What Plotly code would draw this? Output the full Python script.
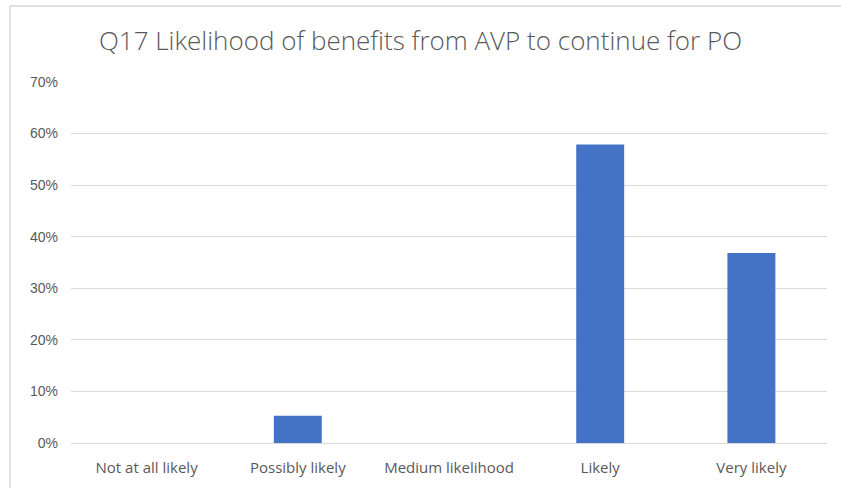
import plotly.graph_objects as go

# Survey responses (share of respondents)
categories = ["Not at all likely", "Possibly likely", "Medium likelihood", "Likely", "Very likely"]
shares = [0.0, 0.0526, 0.0, 0.5789, 0.3684]
tick_values = [0, 0.1, 0.2, 0.3, 0.4, 0.5, 0.6, 0.7]
tick_labels = ["0%", "10%", "20%", "30%", "40%", "50%", "60%", "70%"]

W, H = 841, 488
ML, MR, MT, MB = 71, 14, 82, 45
PW, PH = W - ML - MR, H - MT - MB

def px_x(x):
    return (x - ML) / PW

def px_y(y):
    return (H - MB - y) / PH

fig = go.Figure(
    go.Bar(
        x=categories,
        y=shares,
        marker=dict(color="#4472C4", line=dict(width=0)),
        hoverinfo="x+y",
    )
)

grey = "#595959"
fig.update_layout(
    width=W,
    height=H,
    margin=dict(l=ML, r=MR, t=MT, b=MB),
    paper_bgcolor="white",
    plot_bgcolor="white",
    bargap=0.683,
    showlegend=False,
    title=dict(
        text="Q17 Likelihood of benefits from AVP to continue for PO",
        x=0.5,
        xanchor="center",
        y=1 - 41 / H,
        yanchor="middle",
        font=dict(family="Open Sans, sans-serif", size=26, color=grey, weight=300),
    ),
    font=dict(family="Liberation Sans, Open Sans, sans-serif", size=13, color=grey),
    xaxis=dict(
        showgrid=False,
        showline=False,
        ticks="",
        ticklabelstandoff=14,
        tickfont=dict(family="Open Sans, sans-serif", size=15, color=grey),
    ),
    yaxis=dict(
        range=[0, 0.7],
        tickvals=tick_values,
        ticktext=tick_labels,
        showgrid=True,
        gridcolor="#D9D9D9",
        gridwidth=1,
        zeroline=True,
        zerolinecolor="#D9D9D9",
        zerolinewidth=1,
        showline=False,
        ticks="",
        ticklabelstandoff=12,
        tickfont=dict(size=14, color=grey),
    ),
    shapes=[
        # chart-area frame (left and top edges)
        dict(type="line", xref="paper", yref="paper",
             x0=px_x(10), x1=px_x(10), y0=px_y(H), y1=px_y(6),
             line=dict(color="#D9D9D9", width=1.5)),
        dict(type="line", xref="paper", yref="paper",
             x0=px_x(10), x1=px_x(W), y0=px_y(6), y1=px_y(6),
             line=dict(color="#D9D9D9", width=1.5)),
    ],
)

fig.write_html("out.html")
